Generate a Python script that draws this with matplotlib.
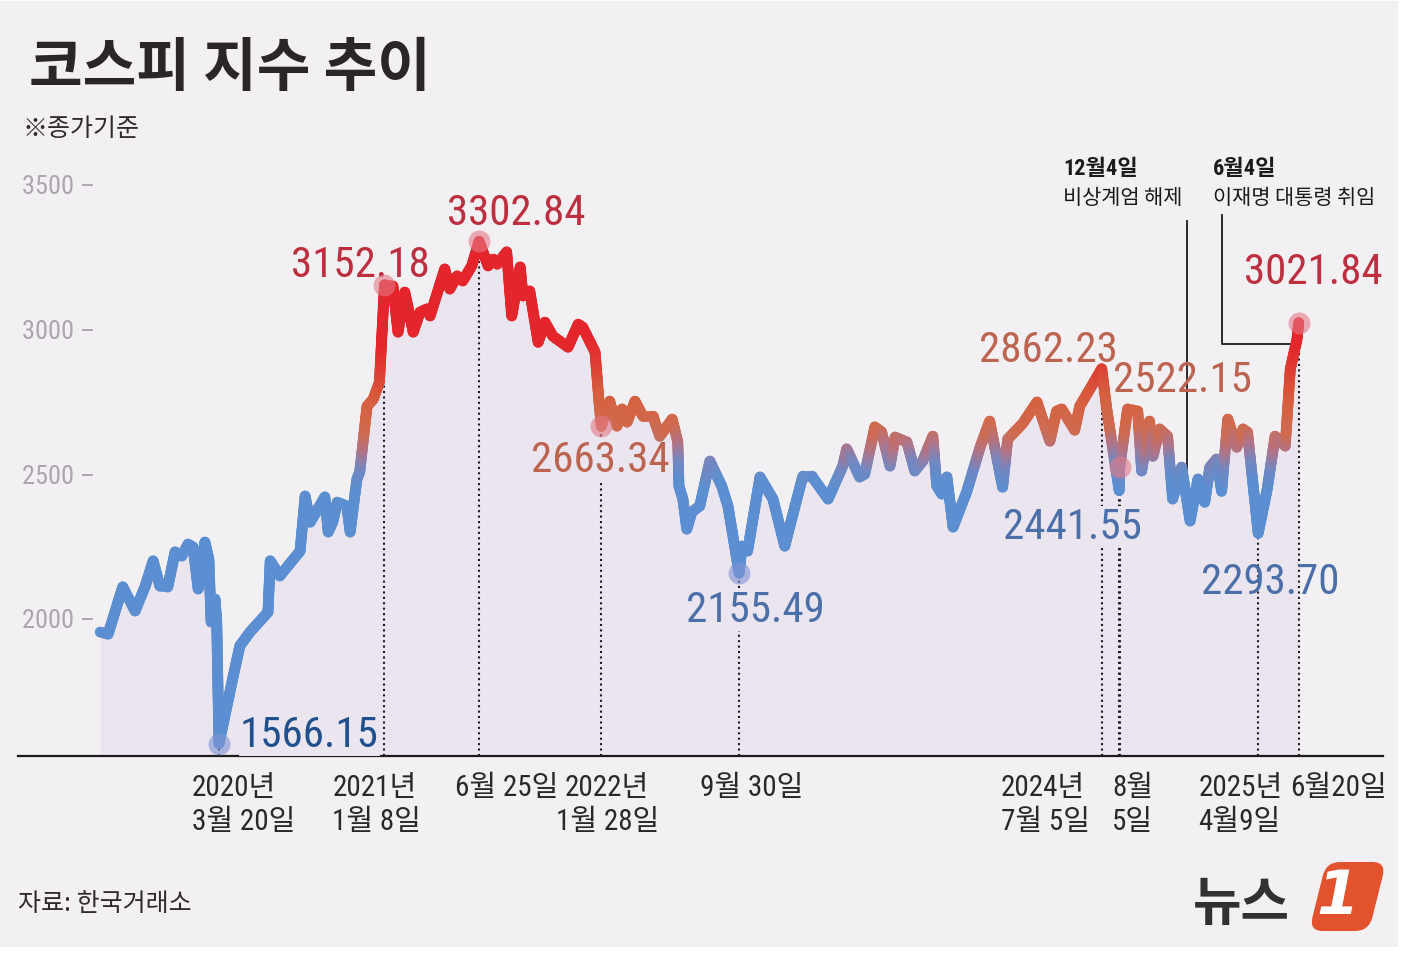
import numpy as np
import matplotlib
matplotlib.use("Agg")
import matplotlib.pyplot as plt
import matplotlib.dates as mdates
import matplotlib.transforms as mtransforms
from matplotlib import font_manager
from matplotlib.collections import LineCollection
from matplotlib.colors import LinearSegmentedColormap, Normalize
from matplotlib.patches import Rectangle, FancyBboxPatch

# KOSPI closing index
dates = [
    "2019-08-22", "2019-09-05", "2019-10-01", "2019-10-23", "2019-11-10", "2019-11-24",
    "2019-12-06", "2019-12-20", "2020-01-02", "2020-01-14", "2020-01-25", "2020-02-03",
    "2020-02-12", "2020-02-24", "2020-03-02", "2020-03-06", "2020-03-13", "2020-03-16",
    "2020-03-20", "2020-04-12", "2020-04-26", "2020-05-14", "2020-06-04", "2020-06-15",
    "2020-06-19", "2020-07-06", "2020-08-11", "2020-08-20", "2020-08-29", "2020-09-24",
    "2020-09-30", "2020-10-08", "2020-10-16", "2020-11-02", "2020-11-08", "2020-11-20",
    "2020-11-25", "2020-12-08", "2020-12-19", "2020-12-30", "2021-01-08", "2021-01-23",
    "2021-02-01", "2021-02-13", "2021-02-28", "2021-03-12", "2021-03-24", "2021-03-30",
    "2021-04-25", "2021-05-04", "2021-05-17", "2021-05-27", "2021-06-12", "2021-06-25",
    "2021-07-11", "2021-07-20", "2021-07-27", "2021-08-13", "2021-08-22", "2021-09-06",
    "2021-09-11", "2021-09-23", "2021-10-08", "2021-10-20", "2021-11-03", "2021-11-30",
    "2021-12-18", "2021-12-26", "2022-01-17", "2022-01-24", "2022-01-28", "2022-02-12",
    "2022-02-25", "2022-03-06", "2022-03-15", "2022-03-29", "2022-04-12", "2022-04-30",
    "2022-05-12", "2022-06-03", "2022-06-13", "2022-06-15", "2022-06-22", "2022-06-29",
    "2022-07-08", "2022-07-22", "2022-08-09", "2022-08-30", "2022-09-10", "2022-09-30",
    "2022-10-05", "2022-10-15", "2022-11-06", "2022-11-29", "2022-12-20", "2022-12-29",
    "2023-01-21", "2023-02-06", "2023-03-07", "2023-04-02", "2023-04-09", "2023-05-02",
    "2023-05-11", "2023-05-29", "2023-06-10", "2023-06-25", "2023-07-04", "2023-07-25",
    "2023-08-08", "2023-08-22", "2023-09-09", "2023-09-16", "2023-09-25", "2023-10-04",
    "2023-10-15", "2023-11-08", "2023-12-02", "2023-12-19", "2024-01-11", "2024-01-20",
    "2024-02-16", "2024-03-12", "2024-04-04", "2024-04-16", "2024-04-25", "2024-05-18",
    "2024-05-27", "2024-06-14", "2024-07-05", "2024-07-14", "2024-08-05", "2024-08-06",
    "2024-08-20", "2024-09-07", "2024-09-14", "2024-09-28", "2024-10-04", "2024-10-16",
    "2024-10-30", "2024-11-08", "2024-11-24", "2024-12-09", "2024-12-23", "2025-01-04",
    "2025-01-13", "2025-01-25", "2025-02-03", "2025-02-14", "2025-03-02", "2025-03-13",
    "2025-03-21", "2025-04-09", "2025-04-25", "2025-05-09", "2025-05-27", "2025-06-05",
    "2025-06-17", "2025-06-20",
]
closes = [
    1952, 1945, 2108, 2025, 2111, 2198,
    2111, 2108, 2229, 2215, 2256, 2246,
    2101, 2263, 2204, 1987, 2066, 1987,
    1566.15, 1779, 1904, 1952, 1997, 2021,
    2198, 2146, 2232, 2422, 2332, 2419,
    2298, 2332, 2401, 2388, 2298, 2481,
    2505, 2733, 2757, 2816, 3152.18, 3148,
    2989, 3127, 2989, 3058, 3069, 3045,
    3207, 3138, 3183, 3166, 3218, 3302.84,
    3218, 3241, 3224, 3266, 3045, 3214,
    3114, 3131, 2954, 3023, 2975, 2937,
    3016, 3006, 2920, 2750, 2663.34, 2750,
    2664, 2723, 2678, 2750, 2698, 2698,
    2629, 2688, 2609, 2457, 2412, 2308,
    2367, 2388, 2543, 2457, 2388, 2155.49,
    2249, 2232, 2488, 2412, 2249, 2318,
    2491, 2491, 2412, 2526, 2585, 2488,
    2498, 2661, 2644, 2526, 2626, 2609,
    2509, 2543, 2629, 2457, 2429, 2488,
    2315, 2436, 2591, 2681, 2453, 2619,
    2674, 2747, 2612, 2716, 2723, 2650,
    2733, 2792, 2862.23, 2723, 2441.55, 2522.15,
    2723, 2716, 2509, 2681, 2560, 2654,
    2629, 2412, 2522, 2336, 2481, 2401,
    2522, 2550, 2439, 2688, 2591, 2654,
    2643, 2293.70, 2446, 2629, 2595, 2861,
    2965, 3021.84,
]

# highlighted closes
mark_dates = ["2020-03-20", "2021-01-08", "2021-06-25", "2022-01-28", "2022-09-30",
              "2024-07-05", "2024-08-05", "2024-08-06", "2025-04-09", "2025-06-20"]

# date labels under the axis
tick_dates = ["2020-03-20", "2021-01-08", "2021-06-25", "2022-01-28", "2022-09-30",
              "2024-07-05", "2024-08-05", "2025-04-09", "2025-06-20"]
tick_texts = ["2020년\n3월 20일", "2021년\n1월 8일", "6월 25일", "2022년\n1월 28일", "9월 30일",
              "2024년\n7월 5일", "8월\n5일", "2025년\n4월9일", "6월20일"]

y_ticks = [2000, 2500, 3000, 3500]
y_floor = 1523.5

event_dates = ["2024-12-04", "2025-06-04"]
event_titles = ["12월4일", "6월4일"]
event_texts = ["비상계엄 해제", "이재명 대통령 취임"]

W, H = 1404, 954

available = {f.name for f in font_manager.fontManager.ttflist}
NARROW = next((n for n in ["Roboto Condensed", "Liberation Sans Narrow"] if n in available), "Roboto")
k = 1.0 if NARROW != "Roboto" else 0.82
NUM = [NARROW, "Noto Sans CJK KR", "DejaVu Sans"]
KR = ["Noto Sans CJK KR", "DejaVu Sans"]
plt.rcParams["font.family"] = NUM


def fxy(x, y):
    # layout position given in picture pixels -> figure fraction
    return x / W, 1 - y / H


fig = plt.figure(figsize=(W / 100, H / 100), dpi=100)
fig.patch.set_facecolor("white")
fig.add_artist(Rectangle((0, 6 / H), 1398 / W, 1 - 8 / H, transform=fig.transFigure,
                         facecolor="#f3f0f4", edgecolor="none", zorder=0))

ax = fig.add_axes([0, 0, 1, 1])
ax.set_zorder(1)
ax.axis("off")
ax.set_xlim(mdates.datestr2num("2019-02-25"), mdates.datestr2num("2025-12-24"))
ax.set_ylim(842.5, 4140.5)

xs = mdates.datestr2num(dates)
ys = np.array(closes, dtype=float)

ax.fill_between(xs, ys, y_floor, color="#eae5ef", lw=0, zorder=1)
ax.axhline(y_floor, xmin=18 / W, xmax=1383 / W, color="#1c1a1b", lw=1.6, zorder=3)

# line coloured by level: each segment is split finely only so the colour can change along it
cmap = LinearSegmentedColormap.from_list("kospi", [
    (0.00, "#5b8fd1"), (0.14, "#7487c0"), (0.26, "#b07488"), (0.38, "#cf6b50"),
    (0.60, "#d6603f"), (0.84, "#e03a32"), (1.00, "#e4252b")])
norm = Normalize(2460, 2960, clip=True)
segs, mids = [], []
for i in range(len(xs) - 1):
    n = int(abs(ys[i + 1] - ys[i]) / 6) + 2
    sx = np.linspace(xs[i], xs[i + 1], n)
    sy = np.linspace(ys[i], ys[i + 1], n)
    for j in range(n - 1):
        segs.append([(sx[j], sy[j]), (sx[j + 1], sy[j + 1])])
        mids.append((sy[j] + sy[j + 1]) / 2)
lc = LineCollection(segs, colors=cmap(norm(np.array(mids))), linewidths=7.8,
                    capstyle="round", joinstyle="round", zorder=4)
ax.add_collection(lc)

# highlighted points
mark_x = mdates.datestr2num(mark_dates)
mark_y = np.array([ys[dates.index(d)] for d in mark_dates])
ax.vlines(mark_x, y_floor, mark_y, colors="#1c1a1b", linestyles=(0, (1, 1.6)), lw=1.5, zorder=2)

# (dx, dy in px, ha, text colour, dot colour or None, boxed)
mark_style = [
    (21, -2, "left", "#1f4f8c", "#7f93d4", True),
    (45, 9, "right", "#bd2f3e", "#e37a86", False),
    (37, 17, "center", "#bd2f3e", "#e37a86", False),
    (-1, -45, "center", "#bd6450", "#e37a86", True),
    (16, -48, "center", "#4b6fa8", "#7f93d4", True),
    (16, 8, "right", "#bd6450", None, False),
    (23, -48, "right", "#4b6fa8", None, True),
    (-7, 76, "left", "#bd6450", "#e37a86", False),
    (12, -60, "center", "#4b6fa8", None, False),
    (15, 40, "center", "#bd2f3e", "#e37a86", False),
]
for x, y, (dx, dy, ha, tc, dc, boxed) in zip(mark_x, mark_y, mark_style):
    if dc:
        ax.scatter([x], [y], s=250, color=dc, alpha=0.6, lw=0, zorder=5)
    bbox = dict(boxstyle="square,pad=0.02", fc="#eae5ef", ec="none") if boxed else None
    ax.annotate(f"{y:.2f}", xy=(x, y), xytext=(dx, dy), textcoords="offset pixels",
                ha=ha, va="baseline", color=tc, fontsize=31 * k, family=NUM,
                bbox=bbox, zorder=3.5)

# y tick labels
ytrans = mtransforms.offset_copy(mtransforms.blended_transform_factory(fig.transFigure, ax.transData),
                                 fig=fig, y=-9, units="dots")
for v in y_ticks:
    ax.text(22 / W, v, f"{v} –", transform=ytrans, va="baseline", ha="left",
            color="#aaa6ab", fontsize=19 * k, family=NUM)

# date labels
tick_style = [(-27, "left"), (-52, "left"), (-24, "left"), (6, "center"), (13, "center"),
              (-12, "right"), (-7, "left"), (-60, "left"), (-9, "left")]
for d, s, (dx, ha) in zip(tick_dates, tick_texts, tick_style):
    ax.annotate(s, xy=(mdates.datestr2num(d), y_floor), xytext=(dx, -17),
                textcoords="offset pixels", ha=ha, va="top",
                multialignment="left" if ha != "center" else "center",
                color="#2b2829", fontsize=21 * k, family=NUM, linespacing=1.27)

# event leaders
to_data = ax.transData.inverted()
ex = mdates.datestr2num(event_dates)
top1 = to_data.transform((0, H - 222))[1]
ax.plot([ex[0], ex[0]], [top1, np.interp(ex[0], xs, ys)], color="#1c1a1b", lw=1.3, zorder=3)
x2, top2 = to_data.transform((1222, H - 216))
level = to_data.transform((0, H - 345))[1]
end2 = np.interp(level, ys[-4:], xs[-4:])
ax.plot([x2, x2, end2], [top2, level, level], color="#1c1a1b", lw=1.3, zorder=3)

for (x, y), t, s in zip([(1063, 175), (1213, 175)], event_titles, event_texts):
    fig.text(*fxy(x, y), t, ha="left", va="baseline", fontsize=16, fontweight="bold",
             color="#1c1a1b", family=NUM)
    fig.text(*fxy(x, y + 29), s, ha="left", va="baseline", fontsize=15,
             color="#1c1a1b", family=KR)

# titles and source
fig.text(*fxy(29, 86), "코스피 지수 추이", ha="left", va="baseline", fontsize=42,
         fontweight="bold", color="#2a2526", family=KR)
fig.text(*fxy(22, 136), "※종가기준", ha="left", va="baseline", fontsize=18,
         color="#2f2b2c", family=KR)
fig.text(*fxy(18, 911), "자료: 한국거래소", ha="left", va="baseline", fontsize=18,
         color="#2f2b2c", family=KR)

# logo
fig.text(*fxy(1193, 920), "뉴스", ha="left", va="baseline", fontsize=38,
         fontweight="bold", color="#333033", family=KR)
badge = FancyBboxPatch((0, 0), 60, 69, boxstyle="round,pad=0,rounding_size=14",
                       facecolor="#e2532d", edgecolor="none")
badge.set_transform(mtransforms.Affine2D().skew_deg(14, 0).translate(1309, H - 932))
fig.add_artist(badge)
fig.text(*fxy(1338, 898), "1", ha="center", va="center", fontsize=44, fontweight="bold",
         style="italic", color="white", family="DejaVu Sans")

fig.savefig("out.png", dpi=100, facecolor=fig.get_facecolor())
